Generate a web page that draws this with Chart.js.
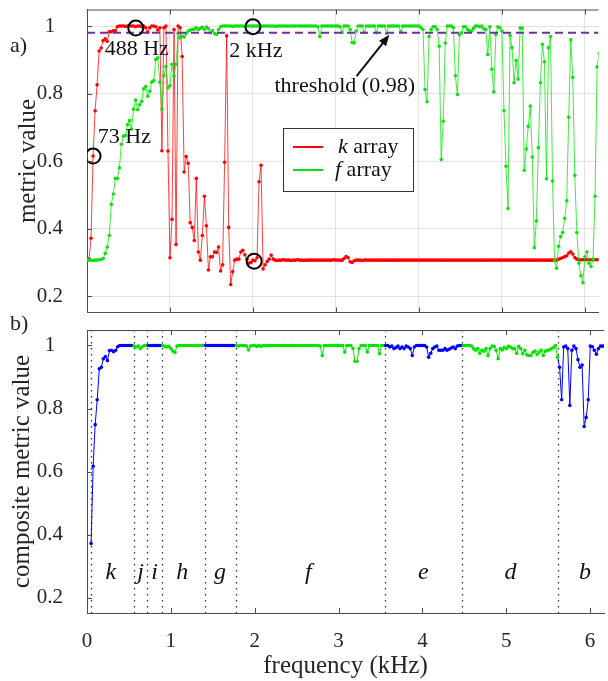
<!DOCTYPE html>
<html>
<head>
<meta charset="utf-8">
<script src="https://cdn.jsdelivr.net/npm/chart.js@4.4.0/dist/chart.umd.min.js"></script>
<style>
  body { margin: 0; background: #fff; }
  .wrap { position: relative; width: 608px; height: 681px; overflow: hidden; }
  canvas { position: absolute; left: 0; }
  #chartA { top: 0; }
  #chartB { top: 322px; }
  .panel { position: absolute; left: 10px; font: 22px 'Liberation Serif', serif; color: #222; }
</style>
</head>
<body>
<div class="wrap">
  <canvas id="chartA" width="608" height="322"></canvas>
  <canvas id="chartB" width="608" height="359"></canvas>
  <div class="panel" style="top:32px">a)</div>
  <div class="panel" style="top:310px">b)</div>
</div>
<script>
// sample spacing of the frequency grid (kHz), first sample at 0
const FREQ_STEP = 0.0244;
const X_MAX = 6.166;
const Y_MIN = 0.152;
const Y_MAX = 1.049;
const THRESHOLD = 0.98;

const xTicks = [0, 1, 2, 3, 4, 5, 6];
const yTicks = [0.2, 0.4, 0.6, 0.8, 1];

// k array metric (red)
const kArray = [
  null, 0.31, 0.372, 0.615, 0.749, 0.826, 0.926, 0.935, 0.957, 0.962,
  0.955, 0.983, 0.983, 0.986, 0.987, 0.998, 1.0, 1.0, 1.0, 0.999,
  1.0, 1.0, 1.0, 1.0, 0.998, 1.0, 1.0, 0.998, 1.0, 0.995,
  0.982, 0.995, 1.0, 1.0, 0.998, 0.988, 0.995, 0.631, 0.995, 1.0,
  0.63, 0.314, 0.428, 0.99, 0.353, 1.0, 0.995, 0.91, 0.568, 0.614,
  0.594, 0.418, 0.404, 0.365, 0.549, 0.331, 0.307, 0.38, 0.496, 0.409,
  0.278, 0.317, 0.317, 0.331, 0.33, 0.346, 0.275, 0.293, 0.597, 0.971,
  0.404, 0.235, 0.273, 0.307, 0.31, 0.31, 0.331, 0.336, 0.323, 0.31,
  0.298, 0.3, 0.307, 0.305, 0.314, 0.539, 0.588, 0.281, 0.293, 0.303,
  0.31, 0.322, 0.31, 0.307, 0.306, 0.307, 0.307, 0.308, 0.307, 0.307,
  0.307, 0.306, 0.307, 0.307, 0.308, 0.307, 0.307, 0.306, 0.307, 0.307,
  0.307, 0.307, 0.307, 0.307, 0.307, 0.307, 0.307, 0.307, 0.307, 0.307,
  0.307, 0.307, 0.308, 0.307, 0.307, 0.307, 0.307, 0.312, 0.318, 0.314,
  0.302, 0.3, 0.305, 0.307, 0.307, 0.307, 0.306, 0.307, 0.307, 0.307,
  0.307, 0.307, 0.307, 0.307, 0.307, 0.307, 0.307, 0.307, 0.307, 0.307,
  0.307, 0.307, 0.307, 0.307, 0.307, 0.307, 0.307, 0.307, 0.307, 0.307,
  0.307, 0.307, 0.307, 0.307, 0.307, 0.307, 0.307, 0.307, 0.307, 0.307,
  0.307, 0.307, 0.307, 0.307, 0.307, 0.307, 0.307, 0.307, 0.307, 0.307,
  0.307, 0.307, 0.307, 0.307, 0.307, 0.307, 0.307, 0.307, 0.307, 0.307,
  0.307, 0.307, 0.307, 0.307, 0.307, 0.307, 0.307, 0.307, 0.307, 0.307,
  0.307, 0.307, 0.307, 0.307, 0.307, 0.307, 0.307, 0.307, 0.307, 0.307,
  0.307, 0.307, 0.307, 0.307, 0.307, 0.307, 0.307, 0.307, 0.307, 0.307,
  0.307, 0.307, 0.307, 0.307, 0.307, 0.307, 0.307, 0.307, 0.307, 0.307,
  0.307, 0.307, 0.307, 0.31, 0.312, 0.315, 0.317, 0.32, 0.328, 0.332,
  0.325, 0.315, 0.31, 0.308, 0.308, 0.308, 0.308, 0.308, 0.308, 0.308,
  0.308, 0.308, 0.308, 0.308
];

// f array metric (green)
const fArray = [
  0.307, 0.307, 0.307, 0.306, 0.307, 0.307, 0.308, 0.309, 0.312, 0.327,
  0.346, 0.38, 0.472, 0.503, 0.549, 0.549, 0.58, 0.65, 0.674, 0.676,
  0.708, 0.72, 0.695, 0.754, 0.781, 0.752, 0.767, 0.777, 0.814, 0.821,
  0.792, 0.807, 0.834, 0.839, 0.901, 0.906, 0.834, 0.754, 0.853, 0.88,
  0.817, 0.823, 0.887, 0.851, 0.887, 0.979, 0.965, 0.97, 0.968, 0.978,
  0.985, 0.988, 0.99, 0.991, 0.995, 0.99, 0.993, 0.996, 0.99, 0.997,
  0.992, 0.98, 0.987, 0.978, 0.975, 0.99, 0.998, 1.0, 1.0, 1.0,
  1.0, 1.0, 0.999, 1.0, 1.0, 1.0, 1.0, 1.0, 0.999, 1.0,
  1.0, 1.0, 1.0, 1.0, 1.0, 1.0, 1.0, 1.0, 1.0, 1.0,
  1.0, 1.0, 1.0, 0.999, 1.0, 1.0, 1.0, 1.0, 1.0, 1.0,
  1.0, 1.0, 1.0, 1.0, 1.0, 1.0, 1.0, 1.0, 1.0, 1.0,
  1.0, 1.0, 1.0, 1.0, 0.998, 0.969, 1.0, 1.0, 1.0, 1.0,
  1.0, 1.0, 1.0, 1.0, 1.0, 0.998, 0.981, 1.0, 1.0, 1.0,
  0.99, 0.951, 0.95, 0.985, 1.0, 1.0, 1.0, 0.981, 1.0, 1.0,
  1.0, 1.0, 1.0, 0.98, 1.0, 1.0, 1.0, 1.0, 0.978, 1.0,
  1.0, 1.0, 1.0, 1.0, 1.0, 0.983, 1.0, 1.0, 1.0, 1.0,
  1.0, 1.0, 1.0, 1.0, 1.0, 0.995, 0.99, 0.812, 0.776, 0.969,
  0.99, 0.998, 0.998, 0.99, 0.94, 0.605, 0.718, 0.95, 1.0, 1.0,
  1.0, 0.995, 0.853, 0.797, 0.974, 0.98, 0.998, 0.998, 0.99, 0.986,
  0.985, 0.993, 1.0, 1.0, 0.998, 1.0, 0.992, 0.99, 0.916, 0.998,
  0.872, 0.805, 0.975, 0.998, 0.995, 0.985, 0.75, 0.585, 0.46, 0.972,
  0.936, 0.832, 0.898, 0.843, 0.994, 0.994, 0.573, 0.636, 0.703, 0.763,
  0.612, 0.344, 0.423, 0.64, 0.832, 0.946, 0.894, 0.548, 0.936, 0.969,
  0.541, 0.305, 0.283, 0.348, 0.377, 0.389, 0.431, 0.483, 0.73, 0.959,
  0.848, 0.558, 0.389, 0.298, 0.261, 0.24, 0.317, 0.331, 0.298, 0.288,
  0.31, 0.496, 0.879, 0.92
];

// composite metric (panel b)
const compArray = [
  null, null, 0.372, 0.617, 0.749, 0.828, 0.926, 0.931, 0.958, 0.965,
  0.952, 0.984, 0.985, 0.98, 0.985, 0.996, 1.0, 1.0, 1.0, 1.0,
  1.0, 1.0, 1.0, 0.998, 0.995, 0.998, 0.99, 0.996, 1.0, 1.0,
  1.0, 1.0, 1.0, 1.0, 1.0, 1.0, 1.0, 1.0, 0.997, 0.995,
  0.997, 0.99, 0.982, 0.978, 0.998, 1.0, 1.0, 1.0, 1.0, 1.0,
  1.0, 1.0, 1.0, 1.0, 1.0, 1.0, 1.0, 1.0, 1.0, 1.0,
  1.0, 1.0, 1.0, 1.0, 1.0, 1.0, 1.0, 1.0, 1.0, 1.0,
  1.0, 1.0, 1.0, 1.0, 0.998, 1.0, 1.0, 1.0, 0.998, 0.986,
  0.998, 1.0, 1.0, 0.997, 1.0, 0.997, 1.0, 1.0, 1.0, 1.0,
  1.0, 1.0, 1.0, 1.0, 1.0, 1.0, 1.0, 1.0, 1.0, 1.0,
  1.0, 1.0, 1.0, 1.0, 1.0, 1.0, 1.0, 1.0, 1.0, 1.0,
  1.0, 1.0, 1.0, 1.0, 0.998, 0.968, 1.0, 1.0, 1.0, 1.0,
  1.0, 1.0, 1.0, 1.0, 1.0, 1.0, 0.979, 1.0, 1.0, 1.0,
  0.99, 0.95, 0.95, 0.99, 1.0, 1.0, 1.0, 0.979, 1.0, 1.0,
  1.0, 1.0, 1.0, 0.974, 1.0, 1.0, 1.0, 1.0, 0.995, 0.998,
  0.99, 0.993, 0.998, 0.99, 0.995, 0.99, 0.998, 0.995, 0.99, 0.968,
  0.995, 1.0, 1.0, 1.0, 1.0, 1.0, 0.995, 0.963, 0.975, 0.99,
  0.995, 0.998, 0.985, 0.985, 0.985, 0.99, 0.985, 0.988, 0.992, 0.995,
  0.99, 0.998, 1.0, 1.0, 1.0, 1.0, 1.0, 1.0, 0.998, 0.99,
  0.985, 0.99, 0.975, 0.985, 0.982, 0.99, 0.968, 0.99, 0.998, 0.997,
  0.985, 0.958, 0.99, 0.986, 0.993, 0.99, 0.997, 0.995, 0.99, 0.99,
  0.975, 0.997, 0.99, 0.974, 0.985, 0.97, 0.968, 0.968, 0.978, 0.982,
  0.971, 0.979, 0.985, 0.968, 0.982, 0.985, 0.986, 0.99, 0.993, 1.0,
  0.963, 0.931, 0.828, 0.995, 0.998, 0.99, 0.81, 0.985, 0.998, 0.99,
  0.955, 0.931, 0.938, 0.743, 0.772, 0.828, 0.998, 0.996, 0.985, 0.972,
  0.99, 0.998, 0.998, 0.998
];

// frequency regions of panel b
const regionStarts = [0.05, 0.556, 0.71, 0.89, 1.41, 1.775, 3.55, 4.47, 5.62];
const regionNames = ['k', 'j', 'i', 'h', 'g', 'f', 'e', 'd', 'b'];
const regionLabelX = [0.284, 0.639, 0.805, 1.136, 1.586, 2.64, 4.01, 5.05, 5.94];
const regionColors = ['#0000ff', '#00e600', '#0000ff', '#00e600', '#0000ff', '#00e600', '#0000ff', '#00e600', '#0000ff'];
const REGION_LABEL_Y = 0.279;

// circled points and notes in panel a
const circled = [
  { x: 0.0732, y: 0.615 },
  { x: 0.588, y: 0.994 },
  { x: 2.0, y: 0.998 },
  { x: 2.015, y: 0.304 }
];
const notes = [
  { text: '73 Hz', x: 0.13, y: 0.67 },
  { text: '488 Hz', x: 0.213, y: 0.93 },
  { text: '2 kHz', x: 1.716, y: 0.925 },
  { text: 'threshold (0.98)', x: 2.26, y: 0.823 }
];
const arrowFrom = { x: 3.25, y: 0.852 };
const arrowTo = { x: 3.645, y: 0.974 };

const FONT = "'Liberation Serif', 'Times New Roman', serif";
const AXIS = '#4d4d4d';
const TEXT = '#262626';
Chart.defaults.font.family = FONT;
Chart.defaults.color = TEXT;

const freq = kArray.map((_, i) => +(i * FREQ_STEP).toFixed(4));

function toPoints(values) {
  return values.map((v, i) => ({ x: freq[i], y: v }));
}

function regionColor(x) {
  let idx = 0;
  for (let i = 0; i < regionStarts.length; i++) {
    if (x >= regionStarts[i]) idx = i;
  }
  return regionColors[idx];
}

// box top edge and inward tick marks, matlab style
const framePlugin = {
  id: 'frame',
  afterDraw(chart) {
    const { ctx, chartArea: a, scales: { x, y } } = chart;
    ctx.save();
    ctx.strokeStyle = AXIS;
    ctx.lineWidth = 1;
    ctx.beginPath();
    ctx.moveTo(a.left, a.top + 0.5);
    ctx.lineTo(a.right, a.top + 0.5);
    xTicks.forEach(v => {
      const px = Math.round(x.getPixelForValue(v)) + 0.5;
      ctx.moveTo(px, a.bottom);
      ctx.lineTo(px, a.bottom - 5);
      ctx.moveTo(px, a.top);
      ctx.lineTo(px, a.top + 5);
    });
    yTicks.forEach(v => {
      const py = Math.round(y.getPixelForValue(v)) + 0.5;
      ctx.moveTo(a.left, py);
      ctx.lineTo(a.left + 5, py);
    });
    ctx.stroke();
    ctx.restore();
  }
};

const notesPlugin = {
  id: 'notes',
  afterDraw(chart) {
    const { ctx, scales: { x, y } } = chart;
    ctx.save();
    ctx.fillStyle = '#111';
    ctx.font = '22px ' + FONT;
    ctx.textAlign = 'left';
    ctx.textBaseline = 'middle';
    notes.forEach(n => ctx.fillText(n.text, x.getPixelForValue(n.x), y.getPixelForValue(n.y)));

    // arrow to the threshold line
    const x0 = x.getPixelForValue(arrowFrom.x), y0 = y.getPixelForValue(arrowFrom.y);
    const x1 = x.getPixelForValue(arrowTo.x), y1 = y.getPixelForValue(arrowTo.y);
    const ang = Math.atan2(y1 - y0, x1 - x0);
    ctx.strokeStyle = '#111';
    ctx.lineWidth = 2;
    ctx.beginPath();
    ctx.moveTo(x0, y0);
    ctx.lineTo(x1 - 8 * Math.cos(ang), y1 - 8 * Math.sin(ang));
    ctx.stroke();
    ctx.beginPath();
    ctx.moveTo(x1, y1);
    ctx.lineTo(x1 - 11 * Math.cos(ang) + 4.5 * Math.sin(ang), y1 - 11 * Math.sin(ang) - 4.5 * Math.cos(ang));
    ctx.lineTo(x1 - 11 * Math.cos(ang) - 4.5 * Math.sin(ang), y1 - 11 * Math.sin(ang) + 4.5 * Math.cos(ang));
    ctx.closePath();
    ctx.fill();

    // legend box
    const bx = 283, by = 128, bw = 130, bh = 63;
    ctx.fillStyle = '#fff';
    ctx.fillRect(bx, by, bw, bh);
    ctx.strokeStyle = '#333';
    ctx.lineWidth = 1;
    ctx.strokeRect(bx + 0.5, by + 0.5, bw, bh);
    const rows = [
      { sym: 'k', color: '#ff0000', y: by + 19, tx: bx + 55 },
      { sym: 'f', color: '#00e600', y: by + 42, tx: bx + 52 }
    ];
    rows.forEach(r => {
      ctx.strokeStyle = r.color;
      ctx.lineWidth = 2;
      ctx.beginPath();
      ctx.moveTo(bx + 10, r.y);
      ctx.lineTo(bx + 40, r.y);
      ctx.stroke();
      ctx.fillStyle = '#111';
      ctx.font = 'italic 22px ' + FONT;
      ctx.fillText(r.sym, r.tx, r.y);
      const w = ctx.measureText(r.sym).width;
      ctx.font = '22px ' + FONT;
      ctx.fillText(' array', r.tx + w, r.y);
    });
    ctx.restore();
  }
};

const regionsPlugin = {
  id: 'regions',
  beforeDatasetsDraw(chart) {
    const { ctx, chartArea: a, scales: { x } } = chart;
    ctx.save();
    ctx.strokeStyle = '#333';
    ctx.lineWidth = 1.3;
    ctx.setLineDash([1.5, 4.5]);
    regionStarts.forEach(v => {
      const px = Math.round(x.getPixelForValue(v)) + 0.5;
      ctx.beginPath();
      ctx.moveTo(px, a.top);
      ctx.lineTo(px, a.bottom);
      ctx.stroke();
    });
    ctx.restore();
  },
  afterDatasetsDraw(chart) {
    const { ctx, scales: { x, y } } = chart;
    ctx.save();
    ctx.fillStyle = '#111';
    ctx.font = 'italic 24px ' + FONT;
    ctx.textAlign = 'center';
    ctx.textBaseline = 'middle';
    regionNames.forEach((n, i) => ctx.fillText(n, x.getPixelForValue(regionLabelX[i]), y.getPixelForValue(REGION_LABEL_Y)));
    ctx.restore();
  }
};

function xScale(showLabels, grid) {
  return {
    type: 'linear', min: 0, max: X_MAX,
    afterBuildTicks: s => { s.ticks = xTicks.map(v => ({ value: v })); },
    ticks: { display: showLabels, font: { size: 21 }, padding: 16, color: TEXT, maxRotation: 0, callback: v => String(v) },
    grid: { display: grid, color: '#e3e3e3', drawTicks: false },
    border: { color: AXIS },
    title: { display: showLabels, text: 'frequency (kHz)', font: { size: 25 }, padding: { top: 0, bottom: 0 }, color: TEXT },
    afterFit: s => { s.height = showLabels ? 68 : 4; s.paddingLeft = 0; s.paddingRight = 0; }
  };
}

function yScale(label, titlePad, grid) {
  return {
    min: Y_MIN, max: Y_MAX,
    afterBuildTicks: s => { s.ticks = yTicks.map(v => ({ value: v })); },
    ticks: { font: { size: 21 }, padding: 24, crossAlign: 'center', color: TEXT, callback: v => String(v) },
    grid: { display: grid, color: '#e3e3e3', drawTicks: false },
    border: { color: AXIS },
    title: { display: true, text: label, font: { size: 25 }, padding: { top: titlePad, bottom: 0 }, color: TEXT },
    afterFit: s => { s.width = 87; s.paddingTop = 0; s.paddingBottom = 0; }
  };
}

new Chart(document.getElementById('chartA'), {
  type: 'line',
  data: {
    datasets: [
      { label: 'circled', data: circled, order: 0, showLine: false, pointRadius: 7.5, pointBorderWidth: 2,
        pointBorderColor: '#000', pointBackgroundColor: 'rgba(0,0,0,0)' },
      { label: 'threshold', data: [{ x: 0, y: THRESHOLD }, { x: X_MAX, y: THRESHOLD }], order: 1,
        borderColor: '#7030a0', borderWidth: 2, borderDash: [8, 5], pointRadius: 0 },
      { label: 'f array', data: toPoints(fArray), order: 2, borderColor: 'rgba(0,230,0,0.75)', borderWidth: 1,
        pointRadius: 1.8, pointBackgroundColor: '#11e011', pointBorderWidth: 0 },
      { label: 'k array', data: toPoints(kArray), order: 3, borderColor: 'rgba(255,0,0,0.75)', borderWidth: 1,
        pointRadius: 1.8, pointBackgroundColor: '#ff0000', pointBorderWidth: 0 }
    ]
  },
  options: {
    responsive: false, animation: false, devicePixelRatio: 1,
    layout: { padding: { top: 9, left: 0, right: 0, bottom: 0 } },
    plugins: { legend: { display: false }, tooltip: { enabled: false } },
    scales: { x: xScale(false, true), y: yScale('metric value', 13, true) }
  },
  plugins: [framePlugin, notesPlugin]
});

new Chart(document.getElementById('chartB'), {
  type: 'line',
  data: {
    datasets: [
      { label: 'composite', data: toPoints(compArray), borderWidth: 1,
        segment: { borderColor: c => regionColor(c.p1.parsed.x) },
        pointRadius: 1.8, pointBorderWidth: 0,
        pointBackgroundColor: c => regionColor(c.raw ? c.raw.x : 0) }
    ]
  },
  options: {
    responsive: false, animation: false, devicePixelRatio: 1,
    layout: { padding: { top: 8, left: 0, right: 0, bottom: 0 } },
    plugins: { legend: { display: false }, tooltip: { enabled: false } },
    scales: { x: xScale(true, false), y: yScale('composite metric value', 7, false) }
  },
  plugins: [framePlugin, regionsPlugin]
});
</script>
</body>
</html>
